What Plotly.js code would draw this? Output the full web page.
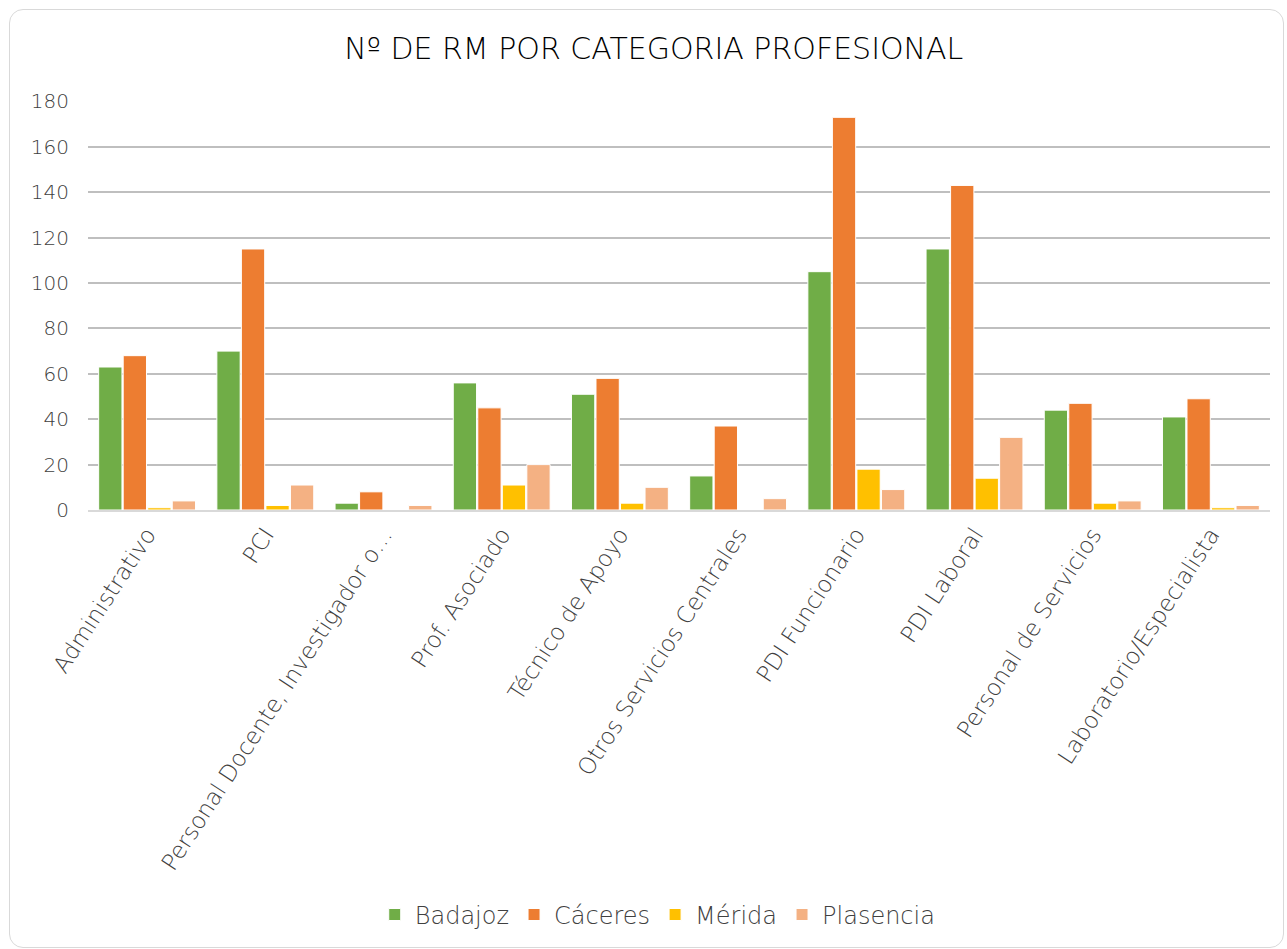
<!DOCTYPE html>
<html>
<head>
<meta charset="utf-8">
<script src="https://cdn.plot.ly/plotly-3.0.1.min.js"></script>
<style>
  html, body { margin: 0; padding: 0; background: #fff; }
  #wrap { position: relative; width: 1287px; height: 949px; }
  #chart { width: 1287px; height: 949px; }
  #frame { position: absolute; left: 9px; top: 9px; width: 1273px; height: 937px; border: 1px solid #d9d9d9; border-radius: 14px; pointer-events: none; }
</style>
</head>
<body>
<div id="wrap">
  <div id="chart"></div>
  <div id="frame"></div>
</div>
<script>
const categories = ["Administrativo", "PCI", "Personal Docente, Investigador o…", "Prof. Asociado", "Técnico de Apoyo", "Otros Servicios Centrales", "PDI Funcionario", "PDI Laboral", "Personal de Servicios", "Laboratorio/Especialista"];
const badajoz   = [63, 70, 3, 56, 51, 15, 105, 115, 44, 41];
const caceres   = [68, 115, 8, 45, 58, 37, 173, 143, 47, 49];
const merida    = [1, 2, 0, 11, 3, 0, 18, 14, 3, 1];
const plasencia = [4, 11, 2, 20, 10, 5, 9, 32, 4, 2];
const yTicks = [0, 20, 40, 60, 80, 100, 120, 140, 160, 180];

const seriesNames = ["Badajoz", "Cáceres", "Mérida", "Plasencia"];
const seriesData = [badajoz, caceres, merida, plasencia];
const colors = ["#70ad47", "#ed7d31", "#ffc000", "#f4b183"];

const traces = seriesData.map((vals, i) => ({
  type: "bar",
  name: seriesNames[i],
  x: categories,
  y: vals,
  marker: { color: colors[i], line: { color: "#ffffff", width: 1 } },
  hoverinfo: "x+y+name"
}));

const font = "'DejaVu Sans', Lato, sans-serif";
const layout = {
  width: 1287, height: 949,
  margin: { l: 88, r: 17, t: 101, b: 436 },
  paper_bgcolor: "#ffffff",
  plot_bgcolor: "#ffffff",
  title: { text: "Nº DE RM POR CATEGORIA PROFESIONAL", font: { family: font, size: 30, color: "#000000", weight: 300 }, x: 0.508, xanchor: "center", y: 0.949, yanchor: "middle" },
  barmode: "group",
  bargap: 0.17,
  bargroupgap: 0.05,
  xaxis: {
    type: "category",
    tickangle: -57,
    tickfont: { family: font, size: 23, color: "#404040", weight: 300 },
    showline: true, linecolor: "#d9d9d9", linewidth: 2,
    ticks: "", showgrid: false, automargin: false
  },
  yaxis: {
    range: [0, 180.2],
    tickvals: yTicks,
    ticktext: yTicks.map(String),
    tickfont: { family: font, size: 20, color: "#404040", weight: 300 },
    showgrid: true, gridcolor: "#bfbfbf", gridwidth: 2,
    zeroline: false, showline: false, ticks: "", ticklabelstandoff: 18, automargin: false
  },
  legend: {
    orientation: "h", x: 0.482, xanchor: "center", y: -0.99, yanchor: "middle",
    font: { family: font, size: 24, color: "#404040", weight: 300 },
    itemwidth: 20, traceorder: "normal"
  },
  showlegend: true
};

Plotly.newPlot("chart", traces, layout, { displayModeBar: false, staticPlot: true });
</script>
</body>
</html>
